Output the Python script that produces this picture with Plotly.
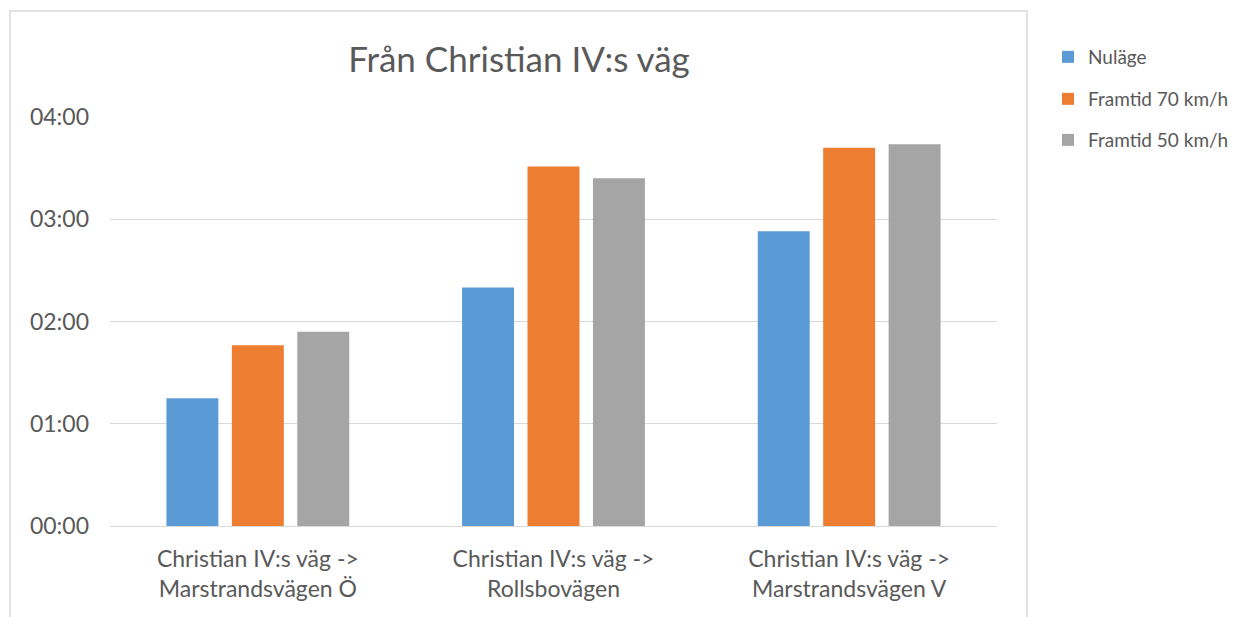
import plotly.graph_objects as go

categories = ["Christian IV:s väg -><br>Marstrandsvägen Ö",
              "Christian IV:s väg -><br>Rollsbovägen",
              "Christian IV:s väg -><br>Marstrandsvägen V"]
series_names = ["Nuläge", "Framtid 70 km/h", "Framtid 50 km/h"]
# travel times in seconds
nulage = [75, 140, 173]
framtid70 = [106, 211, 222]
framtid50 = [114, 204, 224]
tick_vals = [0, 60, 120, 180, 240]
tick_text = ["00:00", "01:00", "02:00", "03:00", "04:00"]
colors = ["#5B9BD5", "#ED7D31", "#A5A5A5"]

FONT = "Lato"
TXT = "#595959"

fig = go.Figure()
legends = ["legend", "legend2", "legend3"]
for name, vals, col, lg in zip(series_names, [nulage, framtid70, framtid50], colors, legends):
    fig.add_trace(go.Bar(x=categories, y=vals, name=name, marker_color=col,
                         marker_line_width=0, legend=lg, showlegend=True))

# page body margin offset
OX, OY = 8, 8
W, H = 1240 - OX, 617 - OY
# plot area in screen pixels
L, R, T, B = 110, 997, 117, 526
pw, ph = R - L, B - T

def px(x):
    return (x - L) / pw

def py(y):
    return (B - y) / ph

leg_common = dict(font=dict(family=FONT, size=19, color=TXT), bgcolor="rgba(0,0,0,0)",
                  xanchor="left", yanchor="middle", itemwidth=30)
layout_legends = {}
for lg, yy in zip(legends, [57, 99, 140]):
    layout_legends[lg] = dict(x=px(1048), y=py(yy), **leg_common)

fig.update_layout(
    width=W, height=H,
    margin=dict(l=L - OX, r=1240 - R, t=T - OY, b=617 - B, autoexpand=False),
    paper_bgcolor="white", plot_bgcolor="white",
    showlegend=True,
    barmode="group", bargap=0.336, bargroupgap=0.206,
    title=dict(text="Från Christian IV:s väg", x=px(519), xanchor="center",
               y=1 - (60 - OY) / H, yanchor="middle", xref="paper", yref="container",
               font=dict(family=FONT, size=35, color=TXT)),
    font=dict(family=FONT, color=TXT),
    xaxis=dict(showgrid=False, showline=True, linecolor="#D9D9D9", linewidth=1,
               tickfont=dict(family=FONT, size=23, color=TXT), ticks="",
               ticklabelstandoff=12, automargin=False),
    yaxis=dict(range=[0, 240], tickvals=tick_vals, ticktext=tick_text,
               showgrid=True, gridcolor="#D9D9D9", gridwidth=1, zeroline=False,
               showline=False, ticks="", ticklabelstandoff=20, automargin=False,
               tickfont=dict(family=FONT, size=23, color=TXT)),
    **layout_legends,
)
# outer chart border (bottom edge runs off the picture)
fig.add_shape(type="rect", xref="paper", yref="paper",
              x0=px(10), x1=px(1027), y0=py(640), y1=py(11),
              line=dict(color="#D9D9D9", width=1.5), fillcolor="rgba(0,0,0,0)", layer="below")

fig.write_html("out.html")
